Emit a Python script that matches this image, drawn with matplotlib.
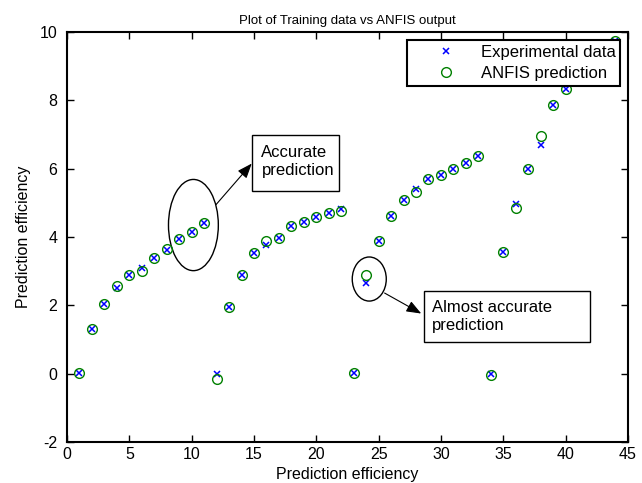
import matplotlib
matplotlib.use('Agg')
import matplotlib.pyplot as plt
from matplotlib.patches import Ellipse, Rectangle

plt.rcParams['font.family'] = ['Liberation Sans', 'DejaVu Sans']
plt.rcParams['axes.unicode_minus'] = False

# Datos (x = indice de muestra)
x_vals = [1, 2, 3, 4, 5, 6, 7, 8, 9, 10, 11, 12, 13, 14, 15, 16, 17, 18, 19, 20,
          21, 22, 23, 24, 25, 26, 27, 28, 29, 30, 31, 32, 33, 34, 35, 36, 37, 38,
          39, 40, 44]
experimental = [0.02, 1.32, 2.05, 2.52, 2.90, 3.10, 3.39, 3.61, 3.95, 4.15,
                4.42, -0.02, 1.95, 2.88, 3.52, 3.77, 3.98, 4.31, 4.45, 4.58,
                4.69, 4.81, 0.02, 2.66, 3.88, 4.62, 5.08, 5.40, 5.71, 5.81,
                5.99, 6.18, 6.38, -0.02, 3.57, 4.98, 5.99, 6.70, 7.86, 8.34,
                9.75]
anfis = [0.02, 1.32, 2.05, 2.57, 2.90, 3.00, 3.39, 3.65, 3.95, 4.15,
         4.42, -0.17, 1.95, 2.88, 3.52, 3.89, 3.98, 4.31, 4.45, 4.58,
         4.69, 4.76, 0.02, 2.88, 3.88, 4.62, 5.08, 5.32, 5.71, 5.81,
         5.99, 6.18, 6.38, -0.05, 3.57, 4.86, 5.99, 6.96, 7.86, 8.34,
         9.75]

x_ticks = [0, 5, 10, 15, 20, 25, 30, 35, 40, 45]
y_ticks = [-2, 0, 2, 4, 6, 8, 10]

fig = plt.figure(figsize=(6.42, 4.83), dpi=100)
ax = fig.add_axes([0.1044, 0.0849, 0.8736, 0.8488])

ax.plot(x_vals, experimental, 'x', color=(0, 0, 1), markersize=4.5,
        markeredgewidth=1.1, label='Experimental data')
ax.plot(x_vals, anfis, 'o', color=(0, 0.5, 0), markerfacecolor='none',
        markersize=7, markeredgewidth=1.0, label='ANFIS prediction')

# Elipses que marcan las zonas comentadas
ax.add_patch(Ellipse((10.14, 4.35), 4.0, 2.67, fill=False, edgecolor='black', lw=1.0))
ax.add_patch(Ellipse((24.25, 2.77), 2.73, 1.29, fill=False, edgecolor='black', lw=1.0))

# Cajas de texto
ax.add_patch(Rectangle((14.85, 5.35), 7.01, 1.64, fill=False, edgecolor='black', lw=1.0))
ax.text(15.6, 6.2, 'Accurate\nprediction', fontsize=12, va='center', ha='left',
        linespacing=1.25)
ax.add_patch(Rectangle((28.61, 0.93), 13.33, 1.49, fill=False, edgecolor='black', lw=1.0))
ax.text(29.3, 1.68, 'Almost accurate\nprediction', fontsize=12, va='center', ha='left',
        linespacing=1.25)

# Flechas
arrow = dict(arrowstyle='-|>,head_length=0.9,head_width=0.35', color='black',
             lw=0.8, shrinkA=0, shrinkB=0)
ax.annotate('', xy=(14.82, 6.15), xytext=(11.96, 4.95), arrowprops=arrow)
ax.annotate('', xy=(28.42, 1.76), xytext=(25.48, 2.36), arrowprops=arrow)

ax.set_xlim(0, 45)
ax.set_ylim(-2, 10)
ax.set_xticks(x_ticks)
ax.set_yticks(y_ticks)
ax.tick_params(direction='in', top=True, right=True, length=5, width=1.0,
               labelsize=11.5)
ax.tick_params(axis='x', pad=3.5)
ax.tick_params(axis='y', pad=7)
for s in ax.spines.values():
    s.set_linewidth(1.5)

ax.set_title('Plot of Training data vs ANFIS output', fontsize=9.5, pad=6)
ax.set_xlabel('Prediction efficiency', fontsize=11.5, labelpad=4)
ax.set_ylabel('Prediction efficiency', fontsize=11.5, labelpad=6)

leg = ax.legend(loc='upper right', fontsize=12, fancybox=False, framealpha=1,
                edgecolor='black', borderaxespad=0.45, handlelength=4.0,
                handletextpad=0.1, labelspacing=0.4, borderpad=0.3)
leg.get_frame().set_linewidth(1.5)

plt.savefig('out.png', dpi=100)
plt.close()
